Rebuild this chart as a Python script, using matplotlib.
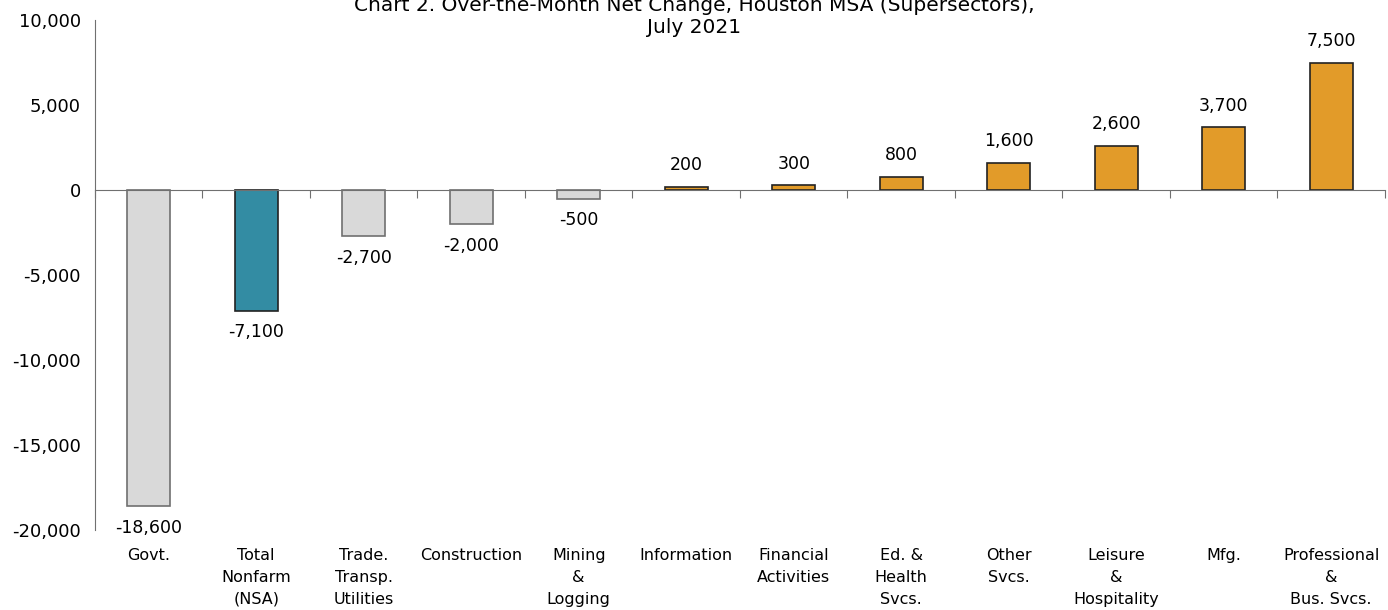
import matplotlib
matplotlib.use("Agg")
import matplotlib.pyplot as plt
import matplotlib.transforms as mtransforms
from matplotlib.ticker import FuncFormatter, FixedLocator
import numpy as np

plt.rcParams['font.family'] = ['DejaVu Sans']

categories = ["Govt.", "Total\nNonfarm\n(NSA)", "Trade.\nTransp.\nUtilities", "Construction",
              "Mining\n&\nLogging", "Information", "Financial\nActivities", "Ed. &\nHealth\nSvcs.",
              "Other\nSvcs.", "Leisure\n&\nHospitality", "Mfg.", "Professional\n&\nBus. Svcs."]
changes = [-18600, -7100, -2700, -2000, -500, 200, 300, 800, 1600, 2600, 3700, 7500]

grey = "#D9D9D9"
teal = "#338CA3"
orange = "#E29B29"

colors = []
edges = []
for i, v in enumerate(changes):
    if i == 1:
        colors.append(teal); edges.append("#222222")
    elif v < 0:
        colors.append(grey); edges.append("#707070")
    else:
        colors.append(orange); edges.append("#222222")

fig = plt.figure(figsize=(13.88, 6.10), dpi=100)
ax = fig.add_axes([0.0684, 0.131, 0.9294, 0.836])

x = np.arange(len(changes))
ax.bar(x, changes, width=0.4, color=colors, edgecolor=edges, linewidth=1.2, zorder=2)

ax.set_xlim(-0.5, len(changes) - 0.5)
ax.set_ylim(-20000, 10000)
ax.set_yticks(np.arange(-20000, 10001, 5000))
ax.yaxis.set_major_formatter(FuncFormatter(lambda v, p: f"{int(v):,}"))
ax.tick_params(axis='y', length=0, labelsize=13, pad=10)

# x axis sits on the zero line, ticks between categories
ax.spines['top'].set_visible(False)
ax.spines['right'].set_visible(False)
ax.spines['bottom'].set_position(('data', 0))
ax.spines['bottom'].set_color("#707070")
ax.spines['left'].set_color("#707070")
ax.xaxis.set_major_locator(FixedLocator(np.arange(-0.5, len(changes), 1.0)))
ax.set_xticklabels([])
ax.tick_params(axis='x', length=6, direction='out', color="#707070")

# category names below the plot area
trans = mtransforms.blended_transform_factory(ax.transData, ax.transAxes)
for i, name in enumerate(categories):
    ax.text(i, -0.036, name, transform=trans, ha='center', va='top',
            fontsize=11.5, linespacing=1.55)

# value labels
for i, v in enumerate(changes):
    if v >= 0:
        ax.annotate(f"{v:,}", (i, v), xytext=(0, 9), textcoords='offset points',
                    ha='center', va='bottom', fontsize=12.5)
    else:
        ax.annotate(f"{v:,}", (i, v), xytext=(0, -9), textcoords='offset points',
                    ha='center', va='top', fontsize=12.5)

fig.text(0.5, 1.007, "Chart 2. Over-the-Month Net Change, Houston MSA (Supersectors),\nJuly 2021",
         ha='center', va='top', fontsize=14.5, linespacing=1.25)

fig.savefig("out.png", dpi=100)
